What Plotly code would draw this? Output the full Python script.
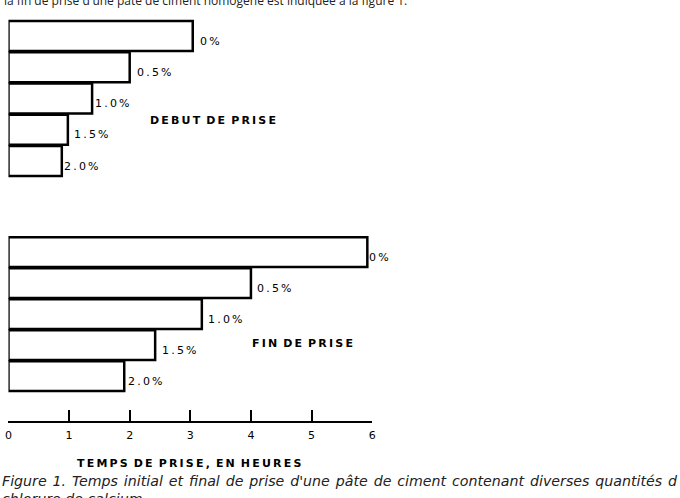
import plotly.graph_objects as go

W, H = 680, 498

# Data
dosages = ["0%", "0.5%", "1.0%", "1.5%", "2.0%"]
debut_prise = [3.04, 2.0, 1.38, 0.98, 0.88]   # hours, initial set
fin_prise = [5.92, 4.0, 3.19, 2.42, 1.91]     # hours, final set
tick_vals = [0, 1, 2, 3, 4, 5, 6]
tick_text = ["0", "1", "2", "3", "4", "5", "6"]

top_text = "la fin de prise d'une pâte de ciment homogène est indiquée à la figure 1."
caption1 = "Figure 1. Temps initial et final de prise d'une pâte de ciment contenant diverses quantités d"
caption2 = "chlorure de calcium"
title_top = "DEBUT DE PRISE"
title_bot = "FIN DE PRISE"
axis_title = "TEMPS DE PRISE, EN HEURES"

THIN = "\u2009"
HAIR = "\u200a"


def spaced(s, sep=THIN):
    words = s.split(" ")
    return (" " + sep).join(sep.join(list(w)) for w in words)


def py(pix):
    return 1 - pix / H


fig = go.Figure()

bar_style = dict(marker=dict(color="white", line=dict(color="black", width=2.5)),
                 orientation="h", hoverinfo="skip", showlegend=False)

fig.add_trace(go.Bar(x=debut_prise, y=dosages, xaxis="x", yaxis="y", **bar_style))
fig.add_trace(go.Bar(x=fin_prise, y=dosages, xaxis="x", yaxis="y2", **bar_style))

annotations = []
lab_font = dict(family="DejaVu Sans", size=11, color="black")
top_shifts = [5, 5, 1, 4, 0]
bot_shifts = [0, 4, 4, 5, 2]
for d, v, xs in zip(dosages, debut_prise, top_shifts):
    annotations.append(dict(x=v, y=d, xref="x", yref="y", text=spaced(d, THIN), showarrow=False,
                            xanchor="left", yanchor="middle", xshift=xs, yshift=-5, font=lab_font))
for d, v, xs in zip(dosages, fin_prise, bot_shifts):
    annotations.append(dict(x=v, y=d, xref="x", yref="y2", text=spaced(d, THIN), showarrow=False,
                            xanchor="left", yanchor="middle", xshift=xs, yshift=-5, font=lab_font))

bold_font = dict(family="DejaVu Sans", size=11, color="black", weight="bold")
annotations.append(dict(x=145 / W, y=py(120), xref="paper", yref="paper",
                        text=spaced(title_top), showarrow=False,
                        xanchor="left", yanchor="middle", font=bold_font))
annotations.append(dict(x=249 / W, y=py(343), xref="paper", yref="paper",
                        text=spaced(title_bot), showarrow=False,
                        xanchor="left", yanchor="middle", font=bold_font))
annotations.append(dict(x=187 / W, y=py(463), xref="paper", yref="paper",
                        text=spaced(axis_title, THIN), showarrow=False,
                        xanchor="center", yanchor="middle",
                        font=dict(family="DejaVu Sans", size=11, color="black", weight="bold")))

annotations.append(dict(x=-2 / W, y=py(0), xref="paper", yref="paper", text=top_text,
                        showarrow=False, xanchor="left", yanchor="middle",
                        font=dict(family="Open Sans", size=12, color="#222")))
cap_font = dict(family="DejaVu Sans", size=14.2, color="#222")
annotations.append(dict(x=0, y=py(481), xref="paper", yref="paper", xshift=-4,
                        text="<i>" + caption1.replace(" ", " " + HAIR) + "</i>",
                        showarrow=False, xanchor="left", yanchor="middle", font=cap_font))
annotations.append(dict(x=0, y=py(499), xref="paper", yref="paper", xshift=-4,
                        text="<i>" + caption2 + "</i>",
                        showarrow=False, xanchor="left", yanchor="middle", font=cap_font))

fig.update_layout(
    width=W, height=H,
    margin=dict(l=0, r=0, t=0, b=0),
    paper_bgcolor="white", plot_bgcolor="white",
    bargap=0.04,
    xaxis=dict(domain=[4.5 / W, 372 / W], range=[0, 6], anchor="free", position=py(422),
               showline=True, linecolor="black", linewidth=2,
               ticks="inside", ticklen=11, tickwidth=2, tickcolor="black",
               tickvals=tick_vals, ticktext=tick_text, showgrid=False, zeroline=False,
               ticklabelstandoff=3,
               tickfont=dict(family="DejaVu Sans", size=11, color="black")),
    yaxis=dict(domain=[0, 1], range=[14.784, -1.152], categoryorder="array",
               categoryarray=dosages, visible=False, anchor="x"),
    yaxis2=dict(domain=[0, 1], range=[7.935, -8.129], categoryorder="array",
                categoryarray=dosages, visible=False, overlaying="y", anchor="x"),
    annotations=annotations,
)

fig.write_html("out.html")
